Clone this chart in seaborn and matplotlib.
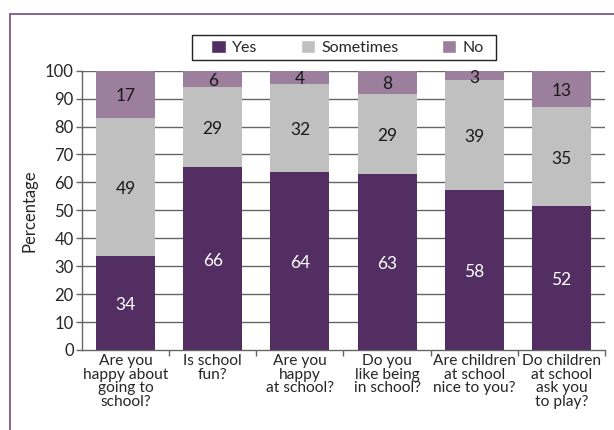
import numpy as np
import pandas as pd
import matplotlib
matplotlib.use('Agg')
import matplotlib.pyplot as plt
import seaborn as sns
from matplotlib.patches import Patch, Rectangle
from matplotlib.lines import Line2D

sns.set_style('white')
plt.rcParams['font.family'] = ['Lato', 'DejaVu Sans']

questions = ['Are you\nhappy about\ngoing to\nschool?', 'Is school\nfun?',
             'Are you\nhappy\nat school?', 'Do you\nlike being\nin school?',
             'Are children\nat school\nnice to you?', 'Do children\nat school\nask you\nto play?']
yes = [34, 66, 64, 63, 58, 52]
sometimes = [49, 29, 32, 29, 39, 35]
no = [17, 6, 4, 8, 3, 13]

# drawn heights (labels are rounded, so they don't add up to exactly 100)
yes_plot = [33.8, 65.6, 63.6, 63.0, 57.4, 51.6]
some_plot = [49.1, 28.5, 31.6, 28.8, 39.3, 35.3]

col_yes = '#532e63'
col_some = '#c0c0c0'
col_no = '#9c7f9c'

df = pd.DataFrame({'q': questions, 'yes': yes_plot,
                   'ys': np.array(yes_plot) + np.array(some_plot),
                   'tot': [100] * 6})

fig = plt.figure(figsize=(6.14, 4.30), dpi=100)
ax = fig.add_axes([82 / 614, 1 - 350 / 430, 523 / 614, 279.3 / 430])

for v in range(10, 101, 10):
    ax.axhline(v, color='#666666', lw=1.0, zorder=0)

kw = dict(width=0.675, saturation=1, ax=ax, linewidth=0)
sns.barplot(data=df, x='q', y='tot', color=col_no, zorder=2, **kw)
sns.barplot(data=df, x='q', y='ys', color=col_some, zorder=3, **kw)
sns.barplot(data=df, x='q', y='yes', color=col_yes, zorder=4, **kw)

for i in range(6):
    ax.text(i, yes_plot[i] / 2 - 0.8, str(yes[i]), ha='center', va='center', color='white', fontsize=12.5, zorder=5)
    ax.text(i, yes_plot[i] + some_plot[i] / 2 - 0.8, str(sometimes[i]), ha='center', va='center',
            color='#1a1a1a', fontsize=12.5, zorder=5)
    top = yes_plot[i] + some_plot[i]
    ax.text(i, min((top + 100) / 2 - 0.6, 97.3), str(no[i]), ha='center', va='center',
            color='#1a1a1a', fontsize=12.5, zorder=5)

ax.set_ylim(0, 100)
ax.set_xlim(-0.5, 5.5)
ax.set_yticks(range(0, 101, 10))
ax.set_xticks(np.arange(6))
ax.set_xticklabels(questions, fontsize=11.2, linespacing=0.95)
ax.set_xticks(np.arange(0.5, 5.6, 1), minor=True)
ax.tick_params(axis='y', labelsize=12, length=4, width=1, color='#666666', left=True, pad=2)
ax.tick_params(axis='x', which='major', length=0, pad=3)
ax.tick_params(axis='x', which='minor', length=4, width=1, color='#666666', bottom=True)
ax.set_xlabel('')
ax.set_ylabel('Percentage', fontsize=12, labelpad=5)

for s in ['top', 'right']:
    ax.spines[s].set_visible(False)
for s in ['left', 'bottom']:
    ax.spines[s].set_color('#666666')
    ax.spines[s].set_linewidth(1.0)

handles = [Patch(facecolor=col_yes, label='Yes'), Patch(facecolor=col_some, label='Sometimes'),
           Patch(facecolor=col_no, label='No')]
fig.legend(handles=handles, loc='center', bbox_to_anchor=(347.5 / 614, 1 - 47.5 / 430), ncol=3,
           fontsize=11.5, frameon=False, handlelength=0.9, handleheight=0.9,
           handletextpad=0.4, columnspacing=2.7)
fig.add_artist(Rectangle((192 / 614, 1 - 60 / 430), 304 / 614, 25 / 430, transform=fig.transFigure,
                         fill=False, edgecolor='#222222', lw=1))

fig.add_artist(Line2D([10 / 614, 1], [1 - 14 / 430, 1 - 14 / 430], color='#7b5c8c', lw=1.3, transform=fig.transFigure))
fig.add_artist(Line2D([10 / 614, 10 / 614], [0, 1 - 14 / 430], color='#7b5c8c', lw=1.3, transform=fig.transFigure))

fig.savefig('out.png', dpi=100)
